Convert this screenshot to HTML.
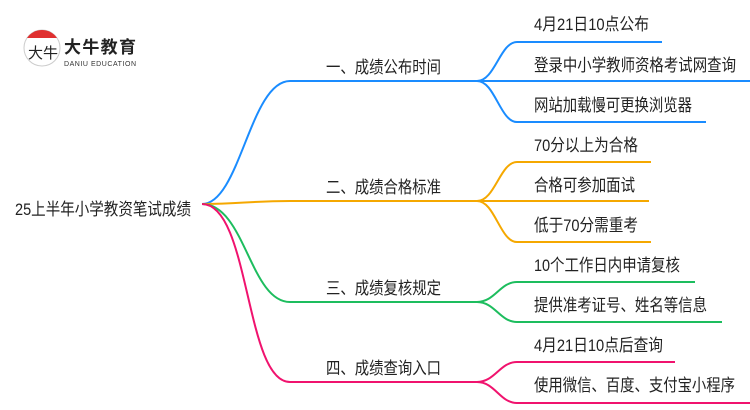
<!DOCTYPE html>
<html><head><meta charset="utf-8"><style>
html,body{margin:0;padding:0;background:#fff;}
svg{display:block;}
text{font-family:"Liberation Sans","Noto Sans CJK SC",sans-serif;fill:#222;font-size:17px;}
</style></head><body>
<svg width="750" height="410" viewBox="0 0 750 410" xmlns="http://www.w3.org/2000/svg">
<!-- logo -->
<circle cx="42" cy="48" r="18" fill="#fff" stroke="#ccc" stroke-width="1"/>
<path d="M27 38 A18 18 0 0 1 57 38 Z" fill="#e03030"/>
<text x="28" y="58" style="font-size:15px;fill:#222" >大牛</text>
<text x="64" y="53" style="font-size:17px;font-weight:bold;fill:#222" textLength="72">大牛教育</text>
<text x="64" y="66" style="font-size:7px;fill:#333" textLength="72">DANIU EDUCATION</text>
<!-- root -->
<text x="15" y="215" textLength="176" lengthAdjust="spacingAndGlyphs">25上半年小学教资笔试成绩</text>
<g fill="none" stroke-width="2">
<path d="M202 204 C240 204 250 81 290 81 L477 81" stroke="#1a8cff"/>
<path d="M477 81 C495 81 500 42 517 42 L662 42" stroke="#1a8cff"/>
<path d="M477 81 L750 81" stroke="#1a8cff"/>
<path d="M477 81 C495 81 500 122 517 122 L706 122" stroke="#1a8cff"/>
<path d="M202 204 C240 204 250 201 290 201 L477 201" stroke="#f5a800"/>
<path d="M477 201 C495 201 500 162 517 162 L651 162" stroke="#f5a800"/>
<path d="M477 201 L649 201" stroke="#f5a800"/>
<path d="M477 201 C495 201 500 242 517 242 L651 242" stroke="#f5a800"/>
<path d="M202 204 C245 204 250 302 290 302 L477 302" stroke="#1dbd5e"/>
<path d="M477 302 C495 302 500 282 517 282 L695 282" stroke="#1dbd5e"/>
<path d="M477 302 C495 302 500 322 517 322 L722 322" stroke="#1dbd5e"/>
<path d="M202 204 C250 204 245 382 290 382 L477 382" stroke="#f0136e"/>
<path d="M477 382 C495 382 500 362 517 362 L675 362" stroke="#f0136e"/>
<path d="M477 382 C495 382 500 403 517 403 L750 403" stroke="#f0136e"/>
</g>
<text x="326" y="73" textLength="115" lengthAdjust="spacingAndGlyphs">一、成绩公布时间</text>
<text x="326" y="193" textLength="115" lengthAdjust="spacingAndGlyphs">二、成绩合格标准</text>
<text x="326" y="294" textLength="115" lengthAdjust="spacingAndGlyphs">三、成绩复核规定</text>
<text x="326" y="374" textLength="115" lengthAdjust="spacingAndGlyphs">四、成绩查询入口</text>
<text x="534" y="30" textLength="115" lengthAdjust="spacingAndGlyphs">4月21日10点公布</text>
<text x="534" y="71" textLength="202" lengthAdjust="spacingAndGlyphs">登录中小学教师资格考试网查询</text>
<text x="534" y="111" textLength="158" lengthAdjust="spacingAndGlyphs">网站加载慢可更换浏览器</text>
<text x="534" y="151" textLength="104" lengthAdjust="spacingAndGlyphs">70分以上为合格</text>
<text x="534" y="191" textLength="101" lengthAdjust="spacingAndGlyphs">合格可参加面试</text>
<text x="534" y="231" textLength="104" lengthAdjust="spacingAndGlyphs">低于70分需重考</text>
<text x="534" y="271" textLength="146" lengthAdjust="spacingAndGlyphs">10个工作日内申请复核</text>
<text x="534" y="311" textLength="173" lengthAdjust="spacingAndGlyphs">提供准考证号、姓名等信息</text>
<text x="534" y="351" textLength="129" lengthAdjust="spacingAndGlyphs">4月21日10点后查询</text>
<text x="534" y="391" textLength="201" lengthAdjust="spacingAndGlyphs">使用微信、百度、支付宝小程序</text>
</svg>
</body></html>
